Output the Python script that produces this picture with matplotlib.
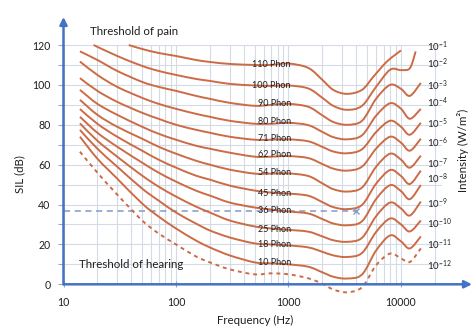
import numpy as np
import matplotlib.pyplot as plt
from matplotlib.path import Path
from matplotlib.patches import PathPatch

plt.rcParams['font.family'] = ['Lato', 'DejaVu Sans']
plt.rcParams['mathtext.fontset'] = 'custom'
plt.rcParams['mathtext.rm'] = 'Lato'

# equal-loudness contours, frequency in Hz, level in dB
freq = [14, 20, 30, 50, 70, 100, 150, 200, 300, 500, 700, 1000, 1500, 2000,
        2500, 3300, 4500, 6000, 8000, 10000, 12000, 15000]
freq_110 = [38, 50, 70, 100, 150, 200, 300, 500, 700, 1000, 1500, 2000,
            2500, 3300, 4500, 5700, 7500, 10000]
freq_100 = [18.5, 30, 50, 70, 100, 150, 200, 300, 500, 700, 1000, 1500, 2000,
            2500, 3300, 4500, 6000, 8000, 10000, 12000, 13500]

phon_110 = [120, 118, 116, 114.5, 112.5, 111.5, 110.5, 110, 110, 110.7, 108.5, 102.5,
            97.5, 95.5, 97.5, 104.2, 111.7, 117.3]
phon_100 = [120, 114.5, 109.5, 107, 105, 103, 102, 100.5, 99.7, 99.5, 99.7, 98.2, 93.5,
            89.5, 87.5, 89.5, 99, 107.6, 107.4, 108.4, 116.8]
phon_90 = [116.8, 112.5, 107, 101.5, 99, 97, 94.5, 93, 91, 89.5, 90, 90.5, 89, 84.7,
           81.4, 80, 82, 93, 100, 98, 94.5, 101]
phon_80 = [111.7, 105, 99, 93.5, 90.5, 88, 85.5, 84, 82, 80.5, 80.5, 81, 79.8, 76.4,
           73.8, 72.7, 74.7, 84.5, 90.8, 88, 83, 88]
phon_71 = [103.4, 97, 91.5, 86, 83, 80, 77.5, 76, 74, 72.5, 72.5, 72.7, 71.7, 68.9,
           66.6, 65.7, 67.7, 76.3, 82, 79, 75, 81]
phon_62 = [97.5, 90.5, 85, 79, 75.5, 72.5, 69.5, 68, 66, 64, 64, 64.3, 63.3, 60.3,
           58, 57, 59, 68, 74, 71, 67, 73]
phon_54 = [92.5, 85, 79, 73, 69, 65.5, 62, 60, 57.5, 55.5, 55.5, 55.6, 54.3, 50.6,
           47.7, 46.5, 48.5, 58.9, 65.5, 62.5, 58.5, 64.5]
phon_45 = [87.9, 80.5, 74, 67, 62.5, 58.5, 54.5, 52.5, 49.5, 47, 46, 45.5, 44.4, 41.2,
           38.7, 37.7, 39.8, 50.4, 57.3, 54.3, 50.3, 57]
phon_36 = [84, 76, 69, 61, 56, 51.5, 47, 44.5, 41, 38.5, 37.5, 36.5, 35.5, 32.7,
           30.5, 29.6, 31.6, 42.7, 49.7, 46.7, 42.7, 49.8]
phon_25 = [80.7, 72, 64, 54.5, 49, 44, 39, 36, 32, 29, 28, 27.3, 26.4, 24,
           22.1, 21.3, 23.3, 34.1, 41, 38, 34.5, 41.5]
phon_18 = [77.4, 68, 59, 48, 42, 36, 30.5, 27, 23.5, 20.5, 20, 19.5, 18.5, 16.3,
           14.5, 13.7, 15.7, 26.2, 33, 30, 26.5, 32]
phon_10 = [74, 63, 53, 40.5, 34, 28, 22, 18.5, 14.5, 11, 10.5, 10, 8.8, 6,
           3.8, 2.9, 4.9, 16.9, 24.5, 21.5, 18, 24]
hearing = [66.5, 56, 45, 32, 25.5, 20, 14, 11, 7.5, 5, 5.5, 5, 3, 0.3,
           -2.6, -4, -1.5, 9.5, 15.4, 13, 11.2, 18]

phon_labels = ['110 Phon', '100 Phon', '90 Phon', '80 Phon', '71 Phon', '62 Phon',
               '54 Phon', '45 Phon', '36 Phon', '25 Phon', '18 Phon', '10 Phon']
phon_label_db = [110.4, 99.7, 90.9, 81.6, 72.9, 64.9, 56, 45.7, 36.8, 27.6, 20.1, 10.8]

intensity_exp = [-1, -2, -3, -4, -5, -6, -7, -8, -9, -10, -11, -12]
intensity_db = [119.3, 110.4, 99.5, 90.9, 80.3, 70.8, 60.7, 52.9, 40.3, 30.6, 19.7, 9.2]

ref_level = 37
ref_freq = 4000

W, H = 474, 334
curve_color = '#cc6b45'
axis_color = '#4472c4'
grid_color = '#d5dbe6'
text_color = '#1e1e1e'


def smooth_path(f, db):
    # Catmull-Rom through the points, in log-frequency space
    pts = np.column_stack([np.log10(f), np.asarray(db, float)])
    n = len(pts)
    verts = [pts[0]]
    codes = [Path.MOVETO]
    for i in range(n - 1):
        p0 = pts[max(i - 1, 0)]
        p1 = pts[i]
        p2 = pts[i + 1]
        p3 = pts[min(i + 2, n - 1)]
        verts += [p1 + (p2 - p0) / 6, p2 - (p3 - p1) / 6, p2]
        codes += [Path.CURVE4] * 3
    verts = np.array(verts)
    verts[:, 0] = 10 ** verts[:, 0]
    return Path(verts, codes)


def fx(px):
    return px / W


def fy(py):
    return 1 - py / H


def px_to_freq(px):
    return 10 ** (1 + (px - 63.5) / 112.5)


fig = plt.figure(figsize=(W / 100, H / 100), dpi=100)
ax = fig.add_axes([fx(63.5), fy(284.3), (442 - 63.5) / W, (284.3 - 45) / H])
ax.set_xscale('log')
ax.set_xlim(10, px_to_freq(442))
ax.set_ylim(0, 120)

ax.set_yticks(range(0, 121, 20))
ax.set_yticks(range(10, 120, 20), minor=True)
ax.set_xticks([10, 100, 1000, 10000], ['10', '100', '1000', '10000'])
minor_x = [m * d for d in (10, 100, 1000, 10000) for m in range(2, 10) if m * d < 23000]
ax.set_xticks(minor_x, minor=True)
ax.xaxis.set_minor_formatter(plt.NullFormatter())
ax.grid(True, which='both', color=grid_color, lw=0.8)
ax.set_axisbelow(True)
for s in ax.spines.values():
    s.set_visible(False)
ax.tick_params(axis='y', which='both', direction='out', length=4, width=0.8,
               color='#8ea6d4', labelsize=7.6, pad=5.5, labelcolor=text_color)
ax.tick_params(axis='x', which='major', direction='inout', length=5, width=0.8,
               color='#8ea6d4', labelsize=7.6, pad=6.5, labelcolor=text_color)
ax.tick_params(axis='x', which='minor', length=0)

curves = [(freq_110, phon_110), (freq_100, phon_100), (freq, phon_90), (freq, phon_80),
          (freq, phon_71), (freq, phon_62), (freq, phon_54), (freq, phon_45),
          (freq, phon_36), (freq, phon_25), (freq, phon_18), (freq, phon_10)]
for f, db in curves:
    ax.add_patch(PathPatch(smooth_path(f, db), fill=False, ec=curve_color, lw=1.4,
                           clip_on=False, zorder=3))
ax.add_patch(PathPatch(smooth_path(freq, hearing), fill=False, ec=curve_color, lw=1.4,
                       ls=(0, (2, 2)), clip_on=False, zorder=3))

ax.plot([10, ref_freq], [ref_level, ref_level], color='#7f9acb', lw=1.1,
        ls=(0, (4, 3)), zorder=2)
ax.plot([ref_freq], [ref_level], marker='x', color='#7f9acb', ms=4, mew=1, zorder=4)

for lab, y in zip(phon_labels, phon_label_db):
    ax.text(1050, y, lab, ha='right', va='center', fontsize=6.5, color=text_color, zorder=5)

for e, y in zip(intensity_exp, intensity_db):
    ax.text(px_to_freq(427), y, r'$\mathregular{10^{%d}}$' % e, ha='left', va='center',
            fontsize=7, color=text_color, clip_on=False)

ax.text(px_to_freq(90), 127, 'Threshold of pain', ha='left', va='center',
        fontsize=8.3, color=text_color, clip_on=False)
ax.text(px_to_freq(79), 9.8, 'Threshold of hearing', ha='left', va='center',
        fontsize=8.3, color=text_color)

# axis lines with arrow heads
arrow = dict(arrowstyle='-|>', color=axis_color, lw=1.8, mutation_scale=11,
             shrinkA=0, shrinkB=0)
fig.add_artist(plt.Annotation('', xy=(fx(63.5), fy(17)), xytext=(fx(63.5), fy(284.3)),
                              xycoords='figure fraction', arrowprops=arrow))
fig.add_artist(plt.Annotation('', xy=(fx(472), fy(284.3)), xytext=(fx(63.5), fy(284.3)),
                              xycoords='figure fraction', arrowprops=arrow))

fig.text(fx(20), fy(174), 'SIL (dB)', rotation=90, ha='center', va='center',
         fontsize=8.3, color=text_color)
fig.text(fx(255), fy(320), 'Frequency (Hz)', ha='center', va='center',
         fontsize=8.3, color=text_color)
fig.text(fx(463), fy(150), 'Intensity (W/m\u00b2)', rotation=90, ha='center',
         va='center', fontsize=8.3, color=text_color)

fig.savefig('out.png', dpi=100)
